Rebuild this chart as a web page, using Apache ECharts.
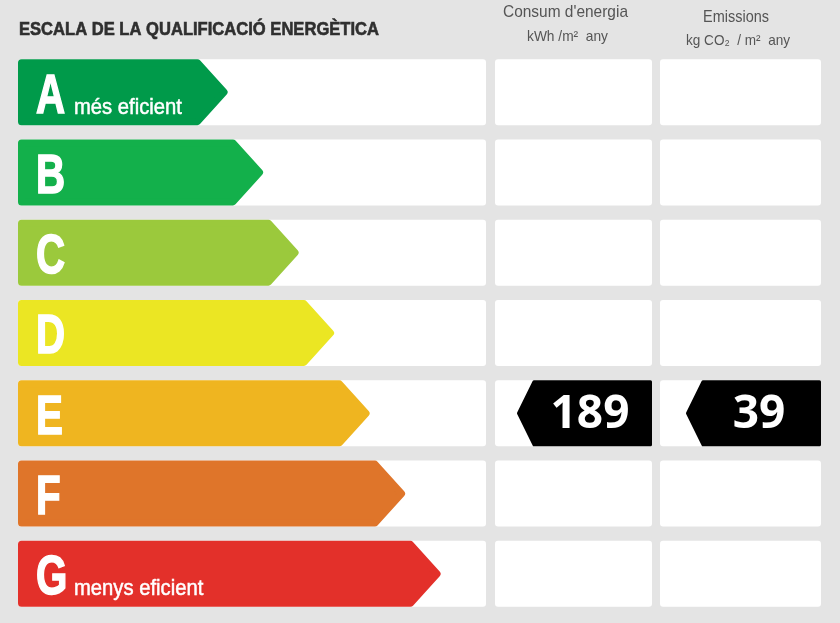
<!DOCTYPE html>
<html><head><meta charset="utf-8">
<script src="https://cdn.jsdelivr.net/npm/echarts@6/dist/echarts.min.js"></script>
<style>html,body{margin:0;padding:0;background:#e4e4e4}#c{width:840px;height:623px}</style>
</head><body><div id="c"></div>
<script>
// ---- data ----
const titleText = 'ESCALA DE LA QUALIFICACIÓ ENERGÈTICA';
const categories = ['A', 'B', 'C', 'D', 'E', 'F', 'G'];
const subLabels = ['més eficient', '', '', '', '', '', 'menys eficient'];
const classColors = ['#009a4a', '#13b04b', '#9bc93c', '#ebe623', '#efb520', '#df752a', '#e3302a'];
const columnTitles = ["Consum d'energia", 'Emissions'];
const columnUnits = ['kWh /m²  any', 'kg CO₂  / m²  any'];
const ratedClasses = ['E', 'E'];      // consum, emissions
const ratedValues = [189, 39];        // kWh/m² any, kg CO2/m² any

// ---- helpers ----
const mctx = document.createElement('canvas').getContext('2d');
function fitScale(text, font, width) {
  mctx.font = font;
  return width / mctx.measureText(text).width;
}

const COL1 = 468, GAP1 = 9, COL2 = 157, GAP2 = 8, COL3 = 161;
const MARK_W = 135, MARK_TIP = 17;

function renderRow(params, api) {
  const i = api.value(1);
  const cs = params.coordSys;
  const c = api.coord([0, i]);
  const band = api.size([0, 1])[1];
  const h = Math.round(band * 0.82);
  const cy = c[1];
  const y0 = cy - h / 2;
  const x0 = cs.x;
  const col2x = x0 + COL1 + GAP1;
  const col3x = col2x + COL2 + GAP2;
  const children = [];
  [[x0, COL1], [col2x, COL2], [col3x, COL3]].forEach(([x, w]) => {
    children.push({ type: 'rect', shape: { x: x, y: y0, width: w, height: h, r: 3 }, style: { fill: '#ffffff' } });
  });
  // class arrow
  const tip = x0 + 211 + 35.5 * i;
  const half = h / 2;
  const bodyEnd = tip - half;
  const ins = 3.5;
  children.push({
    type: 'polygon',
    shape: { points: [[x0 + ins, y0 + ins], [bodyEnd + 1.4, y0 + ins], [tip - ins * 1.4, cy], [bodyEnd + 1.4, y0 + h - ins], [x0 + ins, y0 + h - ins]] },
    style: { fill: classColors[i], stroke: classColors[i], lineWidth: ins * 2, lineJoin: 'round' }
  });
  children.push({
    type: 'text', x: x0 + 18, y: cy + 5, scaleX: 0.72,
    style: { text: categories[i], fill: '#fff', stroke: '#fff', lineWidth: 1.6, font: 'bold 56px "Liberation Sans", Arial, sans-serif', verticalAlign: 'middle', align: 'left' }
  });
  if (subLabels[i]) {
    const f = '22px "Liberation Sans", Arial, sans-serif';
    children.push({
      type: 'text', x: x0 + 56, y: cy + 15.5, scaleX: 0.92,
      style: { text: subLabels[i], fill: '#fff', stroke: '#fff', lineWidth: 0.5, font: f, verticalAlign: 'middle', align: 'left' }
    });
  }
  // rating markers
  [[col2x + COL2, 0], [col3x + COL3, 1]].forEach(([right, k]) => {
    if (ratedClasses[k] !== categories[i]) return;
    const left = right - MARK_W;
    const body = left + MARK_TIP;
    const mi = 1.5;
    children.push({
      type: 'polygon',
      shape: { points: [[left + mi, cy], [body, y0 + mi], [right - mi, y0 + mi], [right - mi, y0 + h - mi], [body, y0 + h - mi]] },
      style: { fill: '#000', stroke: '#000', lineWidth: mi * 2, lineJoin: 'round' }
    });
    children.push({
      type: 'text', x: (body + right) / 2 - 3, y: cy + 2,
      style: { text: String(ratedValues[k]), fill: '#fff', font: 'bold 46px "Open Sans", sans-serif', align: 'center', verticalAlign: 'middle' }
    });
  });
  return { type: 'group', children: children };
}

const titleFont = 'bold 19px "Liberation Sans", Arial, sans-serif';
const headFont = '17px "Liberation Sans", Arial, sans-serif';
const unitFont = '15px "Liberation Sans", Arial, sans-serif';
const headColor = '#555555';

function headText(text, font, cx, cy, width) {
  return {
    type: 'text', x: cx, y: cy, scaleX: fitScale(text, font, width),
    style: { text: text, font: font, fill: headColor, align: 'center', verticalAlign: 'middle' }
  };
}

const chart = echarts.init(document.getElementById('c'));
chart.setOption({
  backgroundColor: '#e4e4e4',
  animation: false,
  grid: { left: 18, right: 19, top: 52, bottom: 9 },
  xAxis: { type: 'value', min: 0, max: 1, show: false },
  yAxis: { type: 'category', data: categories, inverse: true, show: false },
  graphic: [
    { type: 'text', x: 19, y: 29.5, scaleX: fitScale(titleText, titleFont, 360),
      style: { text: titleText, font: titleFont, fill: '#2f2f2f', stroke: '#2f2f2f', lineWidth: 0.6, verticalAlign: 'middle', align: 'left' } },
    headText(columnTitles[0], headFont, 565.5, 12.5, 125),
    headText(columnUnits[0], unitFont, 567.5, 37, 81),
    headText(columnTitles[1], headFont, 736, 17, 66),
    headText(columnUnits[1], unitFont, 738, 41, 104)
  ],
  series: [{
    type: 'custom',
    renderItem: renderRow,
    encode: { x: 0, y: 1 },
    data: categories.map((c, i) => [0, i]),
    clip: false
  }]
});
</script>
</body></html>
